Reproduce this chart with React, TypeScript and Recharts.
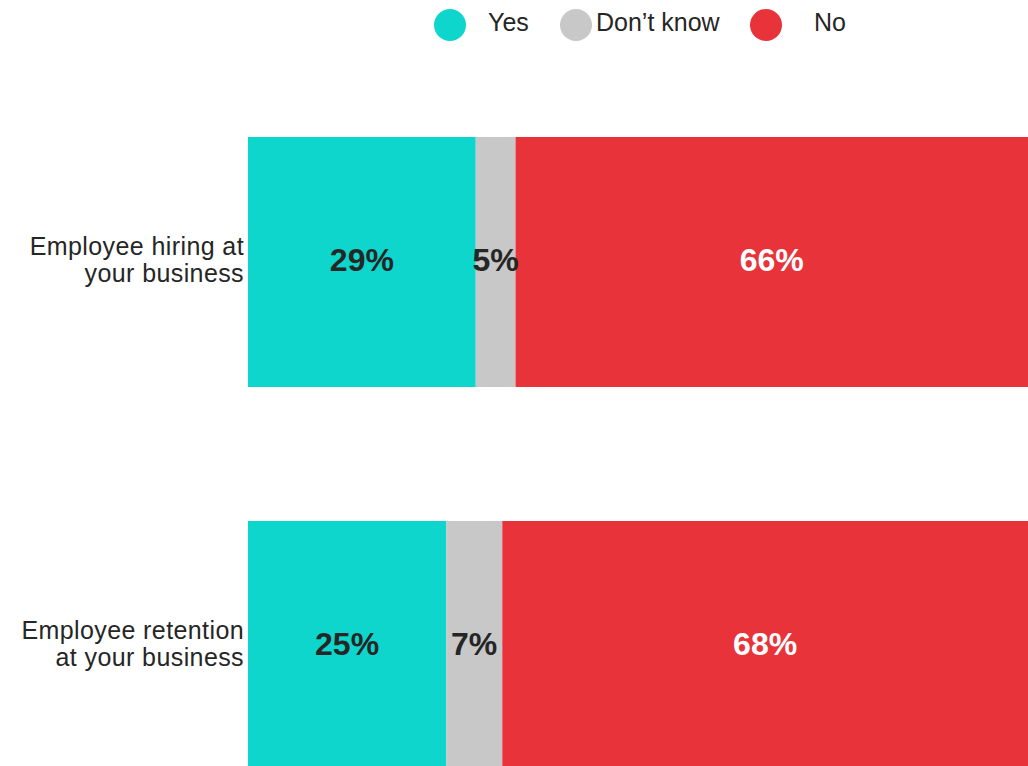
import React from "react";
import { BarChart, Bar, XAxis, YAxis, LabelList } from "recharts";

const categoryLines = [
  ["Employee hiring at", "your business"],
  ["Employee retention", "at your business"],
];
const categories = ["Employee hiring at your business", "Employee retention at your business"];
const yesValues = [29.2, 25.4];
const dontKnowValues = [5.1, 7.2];
const noValues = [65.7, 67.4];
const yesLabels = ["29%", "25%"];
const dontKnowLabels = ["5%", "7%"];
const noLabels = ["66%", "68%"];
const seriesNames = ["Yes", "Don\u2019t know", "No"];

const COLORS = { yes: "#0ED6CC", dk: "#C8C8C8", no: "#E8333A" };
const FONT = '"Liberation Sans", Arial, Helvetica, sans-serif';
const TEXT = "#262626";

const data = categories.map((name, i) => ({
  name,
  idx: i,
  yes: yesValues[i],
  dk: dontKnowValues[i],
  no: noValues[i],
  yesLabel: yesLabels[i],
  dkLabel: dontKnowLabels[i],
  noLabel: noLabels[i],
}));

const CatTick = (props: any) => {
  const { y, payload } = props;
  const lines = categoryLines[payload.index] || [String(payload.value)];
  return (
    <text
      x={244}
      y={y}
      textAnchor="end"
      fill={TEXT}
      fontFamily={FONT}
      fontSize={25}
      letterSpacing={0.4}
    >
      <tspan x={244} y={y - 7}>{lines[0]}</tspan>
      <tspan x={244} y={y + 20}>{lines[1]}</tspan>
    </text>
  );
};

const makeLabel = (color: string) => (props: any) => {
  const { x, y, width, height, value } = props;
  return (
    <text
      x={x + width / 2}
      y={y + height / 2 - 2}
      textAnchor="middle"
      dominantBaseline="central"
      fill={color}
      fontFamily={FONT}
      fontWeight="bold"
      fontSize={32}
    >
      {value}
    </text>
  );
};

const legendItems = [
  { name: seriesNames[0], color: COLORS.yes, cx: 450, tx: 488 },
  { name: seriesNames[1], color: COLORS.dk, cx: 576, tx: 596 },
  { name: seriesNames[2], color: COLORS.no, cx: 766, tx: 814 },
];

export default function App() {
  return (
    <div
      style={{
        position: "absolute",
        left: 0,
        top: 0,
        width: 1028,
        height: 766,
        overflow: "hidden",
        background: "#fff",
      }}
    >
      <svg width={1028} height={50} style={{ position: "absolute", left: 0, top: 0 }}>
        {legendItems.map((it) => (
          <g key={it.name}>
            <circle cx={it.cx} cy={25} r={16} fill={it.color} />
            <text x={it.tx} y={31} fill={TEXT} fontFamily={FONT} fontSize={25}>
              {it.name}
            </text>
          </g>
        ))}
      </svg>
      <div style={{ position: "absolute", left: 0, top: 0 }}>
        <BarChart
          layout="vertical"
          width={1028}
          height={842}
          data={data}
          margin={{ top: 70, right: 0, bottom: 4, left: 0 }}
          barCategoryGap={67}
        >
          <XAxis type="number" domain={[0, 100]} hide />
          <YAxis
            type="category"
            dataKey="name"
            width={248}
            axisLine={false}
            tickLine={false}
            tick={<CatTick />}
          />
          <Bar dataKey="yes" stackId="a" fill={COLORS.yes} isAnimationActive={false}>
            <LabelList dataKey="yesLabel" content={makeLabel(TEXT)} />
          </Bar>
          <Bar dataKey="dk" stackId="a" fill={COLORS.dk} isAnimationActive={false}>
            <LabelList dataKey="dkLabel" content={makeLabel(TEXT)} />
          </Bar>
          <Bar dataKey="no" stackId="a" fill={COLORS.no} isAnimationActive={false}>
            <LabelList dataKey="noLabel" content={makeLabel("#FFFFFF")} />
          </Bar>
        </BarChart>
      </div>
    </div>
  );
}
